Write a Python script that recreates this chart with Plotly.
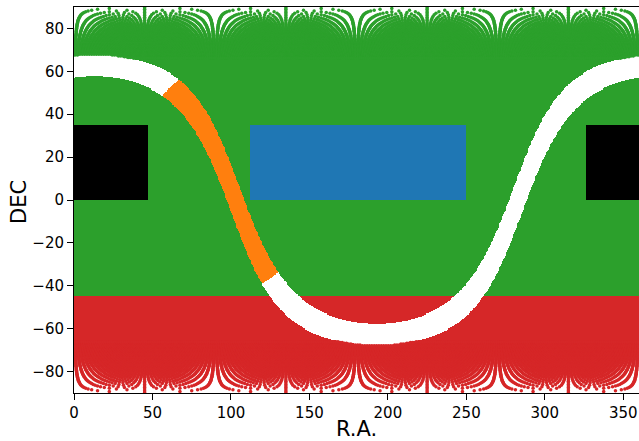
import numpy as np
import plotly.graph_objects as go

# ---- chart definition ----
ra_range = [0, 360]
dec_range = [-90, 90]
dec_split = -45                      # green above, red below
blue_box_ra = [112, 250]
blue_box_dec = [0, 35]
black_boxes_ra = [[0, 47], [326, 360]]
black_box_dec = [0, 35]
plane_halfwidth = 5                  # galactic latitude half width (white band)
orange_l = [150, 255]                # galactic longitude span drawn orange
x_ticks = [0, 50, 100, 150, 200, 250, 300, 350]
y_ticks = [-80, -60, -40, -20, 0, 20, 40, 60, 80]
category_colors = ["#2ca02c", "#d62728", "#1f77b4", "#000000", "#ff7f0e"]
nside = 128

# ---- helpers ----
R = np.array([[-0.0548755604, -0.8734370902, -0.4838350155],
              [0.4941094279, -0.4448296300, 0.7469822445],
              [-0.8676661490, -0.1980763734, 0.4559837762]])


def to_gal(ra, dec):
    a = np.radians(ra)
    d = np.radians(dec)
    e = np.stack([np.cos(d) * np.cos(a), np.cos(d) * np.sin(a), np.sin(d)])
    g = np.tensordot(R, e, axes=1)
    l = np.degrees(np.arctan2(g[1], g[0])) % 360
    b = np.degrees(np.arcsin(np.clip(g[2], -1, 1)))
    return l, b


def classify(ra, dec):
    c = np.where(dec >= dec_split, 0.0, 1.0)
    inb = (ra >= blue_box_ra[0]) & (ra < blue_box_ra[1]) & (dec >= blue_box_dec[0]) & (dec < blue_box_dec[1])
    c = np.where(inb, 2.0, c)
    for r0, r1 in black_boxes_ra:
        ink = (ra >= r0) & (ra < r1) & (dec >= black_box_dec[0]) & (dec < black_box_dec[1])
        c = np.where(ink, 3.0, c)
    l, b = to_gal(ra, dec)
    band = np.abs(b) < plane_halfwidth
    orange = band & (l >= orange_l[0]) & (l <= orange_l[1])
    c = np.where(band, np.nan, c)
    c = np.where(orange, 4.0, c)
    return c


# ---- dense interior sampled on a fine grid ----
ra_c = np.arange(0.25, 360, 0.5)
dec_c = np.arange(-69.75, 70, 0.5)
RA, DEC = np.meshgrid(ra_c, dec_c)
Z = classify(RA, DEC)

cs = []
n = len(category_colors)
for i, col in enumerate(category_colors):
    cs.append([i / n, col])
    cs.append([(i + 1) / n, col])

# ---- polar caps: HEALPix ring pixel centres ----
pr, pd = [], []
for i in range(1, nside):
    z = 1 - i * i / (3.0 * nside * nside)
    dec = np.degrees(np.arcsin(z))
    j = np.arange(1, 4 * i + 1)
    phi = np.degrees((j - 0.5) * np.pi / (2 * i))
    for sgn in (1, -1):
        if dec > 66:
            pr.append(phi)
            pd.append(np.full_like(phi, sgn * dec))
pr = np.concatenate(pr)
pd = np.concatenate(pd)
pc = classify(pr, pd)
keep = ~np.isnan(pc)
pr, pd, pc = pr[keep], pd[keep], pc[keep]
pcol = [category_colors[int(v)] for v in pc]

fig = go.Figure()
fig.add_trace(go.Heatmap(x=ra_c, y=dec_c, z=Z, colorscale=cs, zmin=-0.5, zmax=n - 0.5,
                         showscale=False, hoverinfo="skip", zsmooth=False))
fig.add_trace(go.Scatter(x=pr, y=pd, mode="markers",
                         marker=dict(size=3.5, color=pcol, line=dict(width=0)),
                         hoverinfo="skip"))

axis_common = dict(showgrid=False, zeroline=False, showline=True, mirror=True,
                   linecolor="black", linewidth=1, ticks="outside", ticklen=6,
                   tickwidth=1, tickcolor="black",
                   tickfont=dict(family="DejaVu Sans", size=15, color="black"))
fig.update_layout(
    width=639, height=441,
    margin=dict(l=74, r=0, t=7, b=48),
    plot_bgcolor="white", paper_bgcolor="white",
    showlegend=False,
    xaxis=dict(range=ra_range, tickvals=x_ticks, **axis_common),
    yaxis=dict(range=dec_range, tickvals=y_ticks, **axis_common),
    annotations=[
        dict(text="R.A.", xref="paper", yref="paper", x=0.5, y=(393 - 429) / 386.0,
             xanchor="center", yanchor="middle", showarrow=False,
             font=dict(family="DejaVu Sans", size=21, color="black")),
        dict(text="DEC", xref="paper", yref="paper", x=(19 - 74) / 565.0, y=(393 - 202) / 386.0,
             xanchor="center", yanchor="middle", showarrow=False, textangle=-90,
             font=dict(family="DejaVu Sans", size=21, color="black")),
    ],
)
fig.write_html("out.html")
